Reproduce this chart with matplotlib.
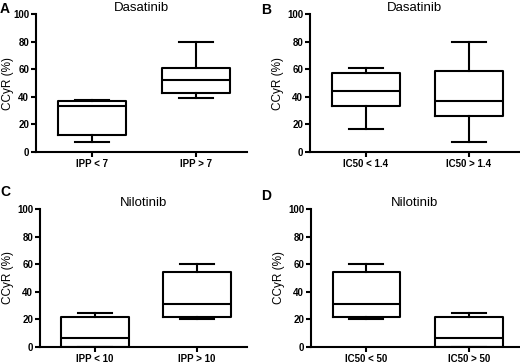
import matplotlib
matplotlib.use('Agg')
import matplotlib.pyplot as plt

plt.rcParams['font.family'] = ['Liberation Sans', 'DejaVu Sans']

# five-number summaries: low whisker, q1, median, q3, high whisker
a_labels = ['IPP < 7', 'IPP > 7']
a_low = [7, 39]
a_q1 = [12, 43]
a_med = [33.5, 52]
a_q3 = [37, 61]
a_high = [38, 80]

b_labels = ['IC50 < 1.4', 'IC50 > 1.4']
b_low = [17, 7]
b_q1 = [33, 26]
b_med = [44.5, 37]
b_q3 = [57.5, 59]
b_high = [61, 80]

c_labels = ['IPP < 10', 'IPP > 10']
c_low = [0, 20]
c_q1 = [0, 22]
c_med = [6.5, 31]
c_q3 = [22, 54]
c_high = [25, 60]

d_labels = ['IC50 < 50', 'IC50 > 50']
d_low = [20, 0]
d_q1 = [22, 0]
d_med = [31, 6.5]
d_q3 = [54, 22]
d_high = [60, 25]

panels = [
    ('A', 'Dasatinib', a_labels, a_low, a_q1, a_med, a_q3, a_high, [36, 14, 247, 152]),
    ('B', 'Dasatinib', b_labels, b_low, b_q1, b_med, b_q3, b_high, [310, 14, 519, 152]),
    ('C', 'Nilotinib', c_labels, c_low, c_q1, c_med, c_q3, c_high, [40, 209, 247, 347]),
    ('D', 'Nilotinib', d_labels, d_low, d_q1, d_med, d_q3, d_high, [311, 209, 519, 347]),
]
# pixel spots of panel letters and y-label centres
letter_pos = {'A': (0, 2), 'B': (261, 3), 'C': (0, 185), 'D': (261, 189)}
ylabel_x = {'A': 8, 'B': 278, 'C': 8, 'D': 279}

W, H = 520, 362
fig = plt.figure(figsize=(W / 100, H / 100), dpi=100)
lw = 1.5

for letter, title, labels, lo, q1, med, q3, hi, box in panels:
    x0, y0, x1, y1 = box
    ax = fig.add_axes([x0 / W, 1 - y1 / H, (x1 - x0) / W, (y1 - y0) / H])
    stats = []
    for i in range(len(labels)):
        stats.append({'whislo': lo[i], 'q1': q1[i], 'med': med[i], 'q3': q3[i],
                      'whishi': hi[i], 'fliers': [], 'label': labels[i]})
    ax.bxp(stats, positions=[1, 2], widths=0.66, showfliers=False,
           boxprops=dict(color='black', linewidth=lw),
           whiskerprops=dict(color='black', linewidth=lw),
           capprops=dict(color='black', linewidth=lw),
           medianprops=dict(color='black', linewidth=lw))
    ax.set_xlim(0.46, 2.49)
    ax.set_ylim(0, 100)
    ax.set_yticks([0, 20, 40, 60, 80, 100])
    for s in ['top', 'right']:
        ax.spines[s].set_visible(False)
    for s in ['left', 'bottom']:
        ax.spines[s].set_linewidth(lw)
    ax.tick_params(width=lw, length=3.5, labelsize=7, pad=1.5)
    for t in ax.get_xticklabels() + ax.get_yticklabels():
        t.set_fontweight('bold')
    ax.set_ylabel('CCyR (%)', fontsize=8.5, va='center')
    ax.yaxis.set_label_coords(ylabel_x[letter] / W, 1 - (y0 + y1) / 2 / H,
                              transform=fig.transFigure)
    ax.set_title(title, fontsize=9.5, pad=2.5)
    lx, ly = letter_pos[letter]
    fig.text(lx / W, 1 - ly / H, letter, fontsize=10, fontweight='bold',
             ha='left', va='top')

fig.savefig('out.png', dpi=100)
